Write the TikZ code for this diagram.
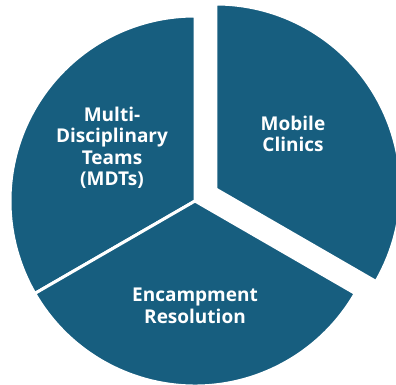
\documentclass[tikz,border=0pt]{standalone}
\usepackage{fontspec}
\setmainfont{Open Sans}
\definecolor{pieblue}{RGB}{23,94,127}
\begin{document}
\begin{tikzpicture}[x=1pt,y=1pt,
  sector/.style={fill=pieblue,draw=white,line width=3pt,line join=miter},
  lbl/.style={text=white,font=\fontsize{19}{21.5}\selectfont\bfseries,align=center,inner sep=0pt}]
\useasboundingbox (0,0) rectangle (396,385);
\clip (0,0) rectangle (396,385);
\coordinate (C) at (195,184);
\coordinate (E) at (215.8,196);
\fill[sector] (C) -- ++(90:185) arc[start angle=90,end angle=210,radius=185] -- cycle;
\fill[sector] (C) -- ++(210:185) arc[start angle=210,end angle=330,radius=185] -- cycle;
\fill[sector] (E) -- ++(-30:185) arc[start angle=-30,end angle=90,radius=185] -- cycle;
\node[lbl] (mdt) at (112,237) {Multi-\\Disciplinary\\Teams\\(MDTs)};
\node[lbl] (mob) at (293,251) {Mobile\\Clinics};
\node[lbl] (enc) at (195,79) {Encampment\\Resolution};
\end{tikzpicture}
\end{document}
